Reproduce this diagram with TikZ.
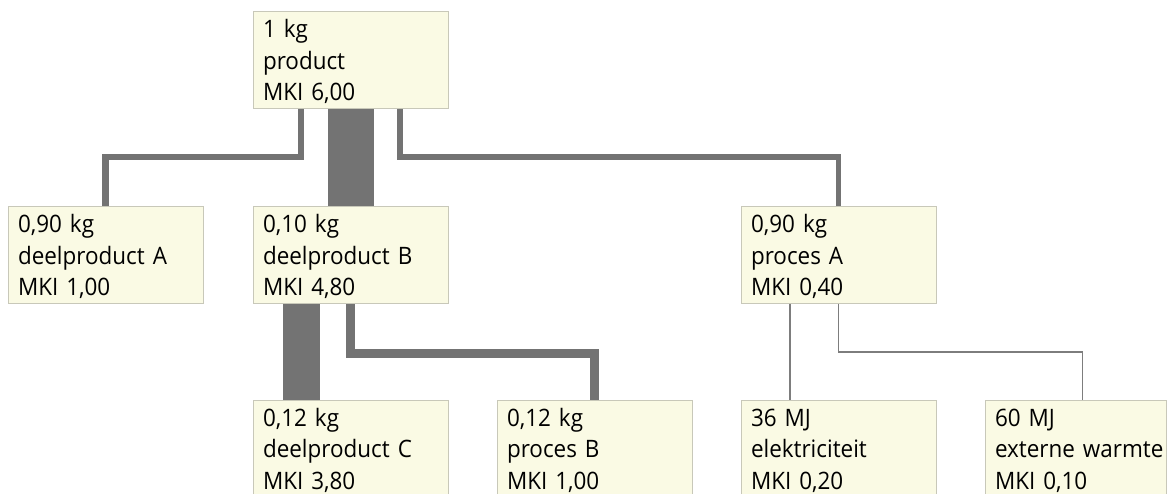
\documentclass[tikz,border=0pt]{standalone}
\usepackage{fontspec}
\setmainfont[FakeStretch=0.935]{Open Sans}
\usetikzlibrary{calc,backgrounds}
\definecolor{boxfill}{RGB}{250,250,228}
\definecolor{boxline}{RGB}{200,200,185}
\definecolor{flowcol}{RGB}{115,115,115}
\definecolor{thincol}{RGB}{125,125,125}
\begin{document}
\begin{tikzpicture}[x=1pt,y=-1pt,
  box/.style={draw=boxline, fill=boxfill, line width=0.8pt, anchor=north west,
    inner xsep=10pt, inner ysep=0pt, outer sep=0pt, text width=175pt,
    text height=27pt, text depth=70pt, align=left,
    font=\fontsize{24}{31.5}\selectfont},
  flow/.style={draw=flowcol, line join=miter, line cap=butt},
  thinflow/.style={draw=thincol, line join=miter, line cap=butt}]
\clip (0,0) rectangle (1167,494);
\useasboundingbox (0,0) rectangle (1167,494);

\node[box] (top) at (253,11) {1 kg\\product\\MKI 6,00};
\node[box] (dA) at (8,206) {0,90 kg\\deelproduct A\\MKI 1,00};
\node[box] (dB) at (253,206) {0,10 kg\\deelproduct B\\MKI 4,80};
\node[box] (pA) at (741,206) {0,90 kg\\proces A\\MKI 0,40};
\node[box, text height=26pt] (dC) at (253,400) {0,12 kg\\deelproduct C\\MKI 3,80};
\node[box, text height=26pt] (pB) at (497,400) {0,12 kg\\proces B\\MKI 1,00};
\node[box, text height=26pt] (el) at (741,400) {36 MJ\\elektriciteit\\MKI 0,20};
\node[box, text height=26pt, text width=161pt] (wm) at (985,400) {60 MJ\\\mbox{externe warmte}\\MKI 0,10};

\begin{pgfonlayer}{background}
\draw[flow, line width=6.5pt] ($(top.south west)+(48,0)$) -- ++(0,49) -| (dA.north);
\draw[flow, line width=46pt] (top.south) -- (dB.north);
\draw[flow, line width=5.5pt] ($(top.south west)+(147,0)$) -- ++(0,49) -| (pA.north);
\draw[flow, line width=37pt] ($(dB.south west)+(48.5,0)$) -- ($(dC.north west)+(48.5,0)$);
\draw[flow, line width=9pt] (dB.south) -- ++(0,50) -| (pB.north);
\draw[thinflow, line width=2pt] ($(pA.south west)+(49,0)$) -- ($(el.north west)+(49,0)$);
\draw[thinflow, line width=1.3pt] (pA.south) -- ++(0,49) -| ($(wm.north west)+(97.5,0)$);
\end{pgfonlayer}
\end{tikzpicture}
\end{document}
